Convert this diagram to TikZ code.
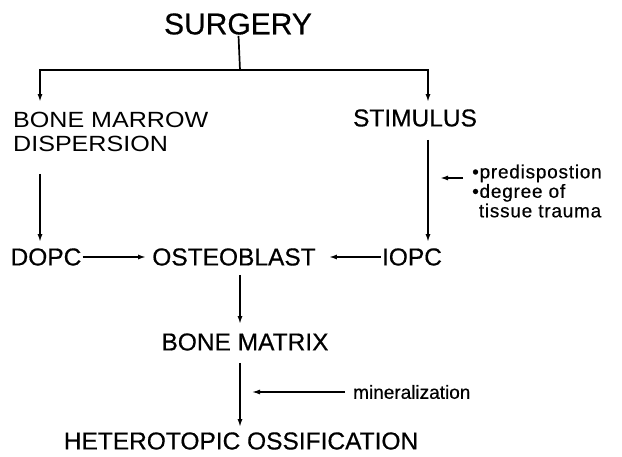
\documentclass[tikz,border=0pt]{standalone}
\usepackage{fontspec}
\setmainfont[FakeBold=0.5]{Liberation Sans}
\newfontfamily\avant[FakeStretch=1.14]{Liberation Sans}
\usetikzlibrary{arrows.meta,calc,positioning}

\begin{document}
\begin{tikzpicture}[x=1pt,y=-1pt,main/.style={inner sep=1pt,font=\fontsize{24.5}{26}\selectfont},note/.style={inner sep=1pt,align=left,font=\fontsize{19}{19.5}\selectfont},arrow/.style={-{Latex[length=8pt,width=5pt]},line width=1.7pt},link/.style={line width=1.7pt}]
\useasboundingbox (0,0) rectangle (622,457);
\node[main,font=\fontsize{30}{31}\selectfont] (surgery) at (238,24) {SURGERY};
\node[main,anchor=west,align=left,font=\avant\fontsize{22}{24}\selectfont] (marrow) at (12,132) {BONE MARROW\\DISPERSION};
\node[main] (stimulus) at (415,118) {STIMULUS};
\node[main] (dopc) at (46,257) {DOPC};
\node[main] (osteoblast) at (234,257) {OSTEOBLAST};
\node[main] (iopc) at (412,257) {IOPC};
\node[main] (bonematrix) at (245,342) {BONE MATRIX};
\node[main] (hetero) at (241,441) {HETEROTOPIC OSSIFICATION};
\node[note,anchor=west,font=\fontsize{19}{19.5}\selectfont\addfontfeature{LetterSpace=4}] (cause) at (471,191) {•predispostion\\•degree of\\\phantom{•}tissue trauma};
\node[note,anchor=west] (mineral) at (352,392) {mineralization};
\coordinate (fork) at (240,70);
\coordinate (lcol) at (40,0);
\coordinate (rcol) at (428,0);
% surgery splits in two
\draw[link] (surgery) -- (fork);
\draw[arrow,shorten >=9pt] (fork) -| (marrow.north -| lcol);
\draw[arrow,shorten >=6pt] (fork) -| (stimulus.north -| rcol);
\draw[arrow,shorten <=21pt,shorten >=5pt] (marrow.south -| lcol) -- (dopc.north -| lcol);
\draw[arrow,shorten <=12pt,shorten >=5pt] (stimulus.south -| rcol) -- (iopc.north -| rcol);
\draw[arrow,shorten >=5pt] (dopc) -- (osteoblast);
\draw[arrow,shorten >=12pt] (iopc) -- (osteoblast);
\draw[arrow,shorten <=8pt,shorten >=8pt] (osteoblast.south -| fork) -- (bonematrix.north -| fork);
\draw[arrow,shorten <=11pt,shorten >=4pt] (bonematrix.south -| fork) -- (hetero.north -| fork);
% side factors
\draw[arrow,shorten <=8pt,shorten >=12pt] ([yshift=13pt]cause.west) -- ([yshift=13pt]cause.west -| rcol);
\draw[arrow,line width=1.3pt,shorten <=7pt,shorten >=12pt] (mineral.west) -- (mineral.west -| fork);
\end{tikzpicture}
\end{document}
